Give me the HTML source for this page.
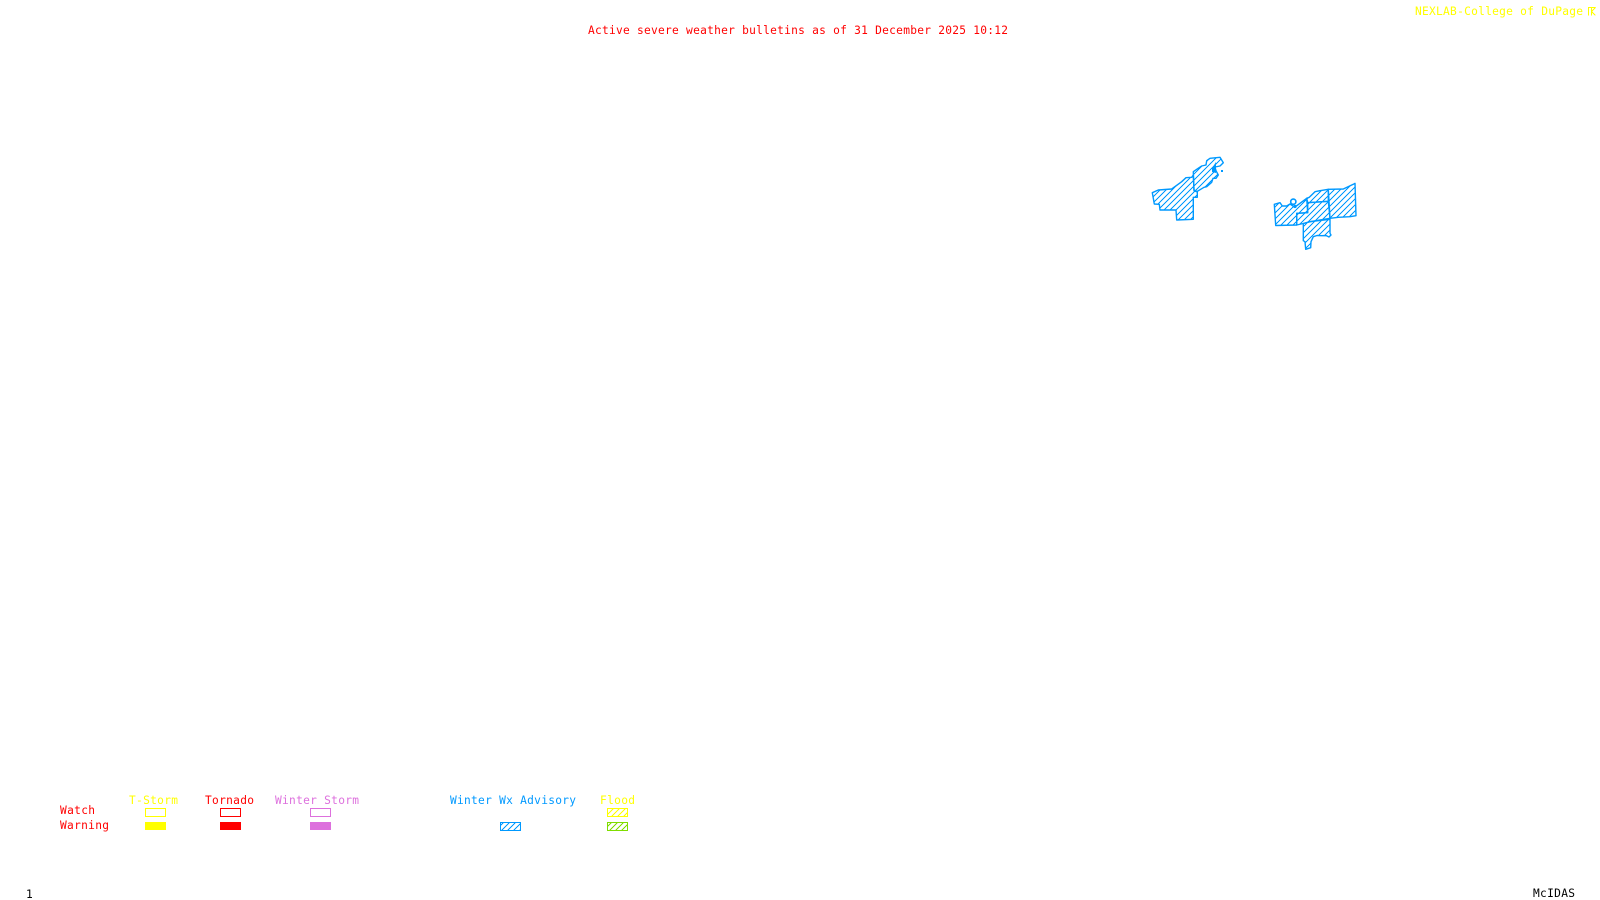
<!DOCTYPE html>
<html><head><meta charset="utf-8"><title>Active severe weather bulletins</title>
<style>
html,body{margin:0;padding:0;background:#fff;width:1600px;height:900px;overflow:hidden}
svg{display:block}
text{font-family:"DejaVu Sans Mono","Liberation Mono",monospace;font-size:11.2px;white-space:pre}
</style></head><body>
<svg width="1600" height="900" viewBox="0 0 1600 900" xmlns="http://www.w3.org/2000/svg">
<defs>
<pattern id="hb" width="6" height="6" patternUnits="userSpaceOnUse"><path d="M-1 7L7 -1M-1 1L1 -1M5 7L7 5" stroke="#0099ff" stroke-width="1" fill="none" shape-rendering="crispEdges"/></pattern>
<pattern id="hy" width="6" height="6" patternUnits="userSpaceOnUse"><path d="M-1 7L7 -1M-1 1L1 -1M5 7L7 5" stroke="#ffff00" stroke-width="1" fill="none" shape-rendering="crispEdges"/></pattern>
<pattern id="hg" width="6" height="6" patternUnits="userSpaceOnUse"><path d="M-1 7L7 -1M-1 1L1 -1M5 7L7 5" stroke="#7fdd00" stroke-width="1" fill="none" shape-rendering="crispEdges"/></pattern>
</defs>

<text x="588" y="34" fill="#ff0000" textLength="420" lengthAdjust="spacing">Active severe weather bulletins as of 31 December 2025 10:12</text>
<text x="1415" y="15" fill="#ffff00" textLength="168" lengthAdjust="spacing">NEXLAB-College of DuPage</text>
<g fill="none" stroke="#ffff00" stroke-width="1" shape-rendering="crispEdges"><path d="M1588.5 15.5V7.5H1595.5M1591.5 7.5V15.5M1595.5 7.5L1591.5 11.5L1595.5 15.5"/></g>

<g fill="url(#hb)" stroke="#0099ff" stroke-width="1.4" stroke-linejoin="round">
<path d="M1152.3 192.7L1158.3 190L1171.7 189L1181.7 181.7L1186 177.7L1191.7 177.3L1193.3 175L1194 190L1197.3 191.7V197.3H1193.3V219.3L1176.7 220L1176 210H1160L1159.3 204.3L1154.3 204L1153.3 198.3Z"/>
<path d="M1193.3 171.7L1196.7 169.3L1201.7 166L1206 165L1206.7 160.7L1210 158.3L1220 157.3L1223.3 162.7L1220 166L1215 167L1216 170.7L1218.3 175L1216 178.3H1213L1211.7 182.3L1206.7 186.7L1204 187.3L1200.7 189.3L1196.7 191.7L1194 190.7Z"/>
<path d="M1274.3 204.3L1280 202.7L1282.3 206H1286.7L1290 204L1293 206L1295 207L1300 203.3L1306.7 198.3L1307.7 212.7L1296.7 213.3V225L1275.7 225.5Z"/>
<path d="M1296.7 213.3L1307.7 212.7V202.7L1328.3 201.3L1330 218.3L1310 221.7L1303.3 223.5L1296.7 225Z"/>
<path d="M1306.7 198.3L1309.3 197.3L1315 191.7L1320 190.7L1328.3 189.3L1328.3 201.3L1307.7 202.7Z"/>
<path d="M1328.3 189.3L1343.3 189L1353.3 184.3L1355 183.3L1356 215.7L1350 216.7L1338.3 217.3L1330 218.3Z"/>
<path d="M1303.3 223.5L1310 221.7L1330 219.3V233.3L1331 235L1329 237L1326 235.5L1321.7 235.7L1317 235.5L1313.3 236.7L1311 241.7L1310.7 247.7L1305.7 249.3L1305 241.7L1303.3 240.7Z"/>
</g>
<circle cx="1293.3" cy="201.7" r="2.6" fill="none" stroke="#0099ff" stroke-width="1.6"/>
<circle cx="1295" cy="206.5" r="1.6" fill="#0099ff"/>
<path d="M1212 168L1216 162L1216 173L1212 172Z" fill="#0099ff"/>
<rect x="1221" y="170" width="2" height="2" fill="#0099ff"/>

<g>
<text x="129" y="804" fill="#ffff00" textLength="49" lengthAdjust="spacing">T-Storm</text>
<text x="205" y="804" fill="#ff0000" textLength="49" lengthAdjust="spacing">Tornado</text>
<text x="275" y="804" fill="#dd70dd" textLength="84" lengthAdjust="spacing">Winter Storm</text>
<text x="450" y="804" fill="#0099ff" textLength="126" lengthAdjust="spacing">Winter Wx Advisory</text>
<text x="600" y="804" fill="#ffff00" textLength="35" lengthAdjust="spacing">Flood</text>
<text x="60" y="814" fill="#ff0000" textLength="35" lengthAdjust="spacing">Watch</text>
<text x="60" y="829" fill="#ff0000" textLength="49" lengthAdjust="spacing">Warning</text>
</g>
<g stroke-width="1" shape-rendering="crispEdges">
<rect x="145.5" y="808.5" width="20" height="8" fill="none" stroke="#ffff00"/>
<rect x="220.5" y="808.5" width="20" height="8" fill="none" stroke="#ff0000"/>
<rect x="310.5" y="808.5" width="20" height="8" fill="none" stroke="#dd70dd"/>
<rect x="607.5" y="808.5" width="20" height="8" fill="url(#hy)" stroke="#ffff00"/>
<rect x="145" y="822" width="21" height="8" fill="#ffff00"/>
<rect x="220" y="822" width="21" height="8" fill="#ff0000"/>
<rect x="310" y="822" width="21" height="8" fill="#dd70dd"/>
<rect x="500.5" y="822.5" width="20" height="8" fill="url(#hb)" stroke="#0099ff"/>
<rect x="607.5" y="822.5" width="20" height="8" fill="url(#hg)" stroke="#7fdd00"/>
</g>

<text x="26" y="898" fill="#000000">1</text>
<text x="1533" y="897" fill="#000000" textLength="42" lengthAdjust="spacing">McIDAS</text>
</svg>
</body></html>
